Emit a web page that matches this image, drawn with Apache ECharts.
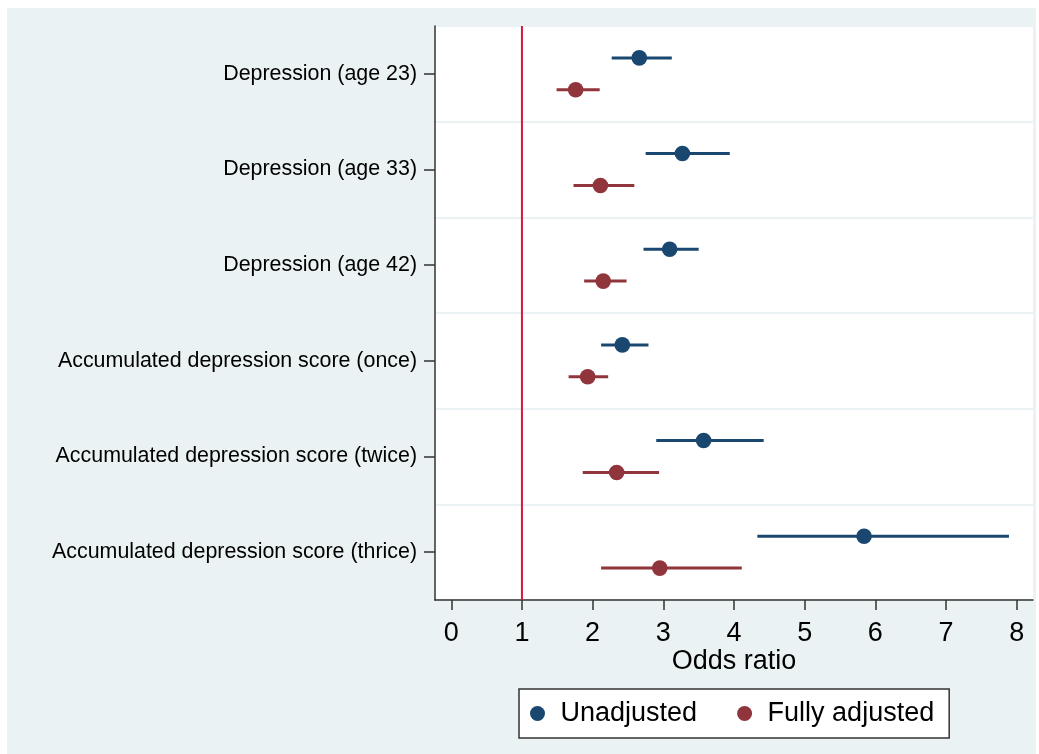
<!DOCTYPE html>
<html>
<head>
<meta charset="utf-8">
<script src="https://cdn.jsdelivr.net/npm/echarts@6/dist/echarts.min.js"></script>
<style>
html, body { margin: 0; padding: 0; background: #ffffff; width: 1039px; height: 754px; overflow: hidden; }
#chart { position: absolute; left: 7px; top: 8px; width: 1029px; height: 746px; background: #eaf2f3; }
</style>
</head>
<body>
<div id="chart"></div>
<script>
const categories = [
  'Depression (age 23)',
  'Depression (age 33)',
  'Depression (age 42)',
  'Accumulated depression score (once)',
  'Accumulated depression score (twice)',
  'Accumulated depression score (thrice)'
];
const unadjOR = [2.66, 3.27, 3.09, 2.42, 3.57, 5.84];
const unadjLo = [2.27, 2.75, 2.72, 2.12, 2.90, 4.33];
const unadjHi = [3.12, 3.94, 3.50, 2.79, 4.42, 7.89];
const adjOR = [1.76, 2.11, 2.15, 1.93, 2.34, 2.95];
const adjLo = [1.49, 1.73, 1.88, 1.66, 1.86, 2.12];
const adjHi = [2.10, 2.59, 2.48, 2.22, 2.94, 4.11];
const xTicks = [0, 1, 2, 3, 4, 5, 6, 7, 8];
const refValue = 1;

const FONT = '"Liberation Sans", Arial, sans-serif';
const C_UN = '#1a476f';
const C_AD = '#90353b';
const C_REF = '#d6173f';

function rows(or, lo, hi) {
  return or.map((v, i) => [v, lo[i], hi[i], i]);
}
function makeRender(sign, color) {
  return function (params, api) {
    const y = api.value(3);
    const p = api.coord([api.value(0), y]);
    const l = api.coord([api.value(1), y]);
    const h = api.coord([api.value(2), y]);
    const band = Math.abs(api.size([0, 1])[1]);
    const dy = sign * band / 6;
    return {
      type: 'group',
      children: [
        { type: 'line', shape: { x1: l[0], y1: l[1] + dy, x2: h[0], y2: h[1] + dy },
          style: { stroke: color, lineWidth: 3 } },
        { type: 'circle', shape: { cx: p[0], cy: p[1] + dy, r: 7.8 },
          style: { fill: color } }
      ]
    };
  };
}
function renderRef(params, api) {
  const cs = params.coordSys;
  const x = api.coord([api.value(0), 0])[0];
  return {
    type: 'line',
    shape: { x1: x, y1: cs.y, x2: x, y2: cs.y + cs.height },
    style: { stroke: C_REF, lineWidth: 2 }
  };
}

const chart = echarts.init(document.getElementById('chart'), null, { renderer: 'canvas' });
chart.setOption({
  animation: false,
  backgroundColor: '#eaf2f3',
  textStyle: { fontFamily: FONT },
  grid: { left: 428, top: 18, right: 3, bottom: 154, show: true, backgroundColor: '#ffffff', borderWidth: 0 },
  xAxis: {
    type: 'value', min: -0.23, max: 8.23,
    name: 'Odds ratio', nameLocation: 'middle', nameGap: 48, nameMoveOverlap: false,
    nameTextStyle: { fontSize: 27, color: '#000', fontFamily: FONT },
    axisLine: { show: true, onZero: false, lineStyle: { color: '#333', width: 1.5 } },
    axisTick: { show: true, length: 10, customValues: xTicks, lineStyle: { color: '#333', width: 1.5 } },
    axisLabel: { customValues: xTicks, fontSize: 27, color: '#000', margin: 20, fontFamily: FONT },
    splitLine: { show: false }
  },
  yAxis: {
    type: 'category', data: categories, inverse: true, boundaryGap: true,
    axisLine: { show: true, onZero: false, lineStyle: { color: '#333', width: 1.5 } },
    axisTick: { show: true, alignWithLabel: true, length: 11, interval: 0, lineStyle: { color: '#333', width: 1.5 } },
    axisLabel: { fontSize: 21.4, color: '#000', margin: 18, interval: 0, fontFamily: FONT },
    splitLine: { show: true, interval: 0, lineStyle: { color: '#eaf2f3', width: 2 } }
  },
  legend: {
    left: 512, top: 681,
    itemWidth: 36, itemHeight: 15, itemGap: 40,
    icon: 'circle',
    padding: [11, 15, 11, 11],
    borderColor: '#333', borderWidth: 1.5, backgroundColor: '#ffffff',
    textStyle: { fontSize: 27, color: '#000', fontFamily: FONT },
    data: ['Unadjusted', 'Fully adjusted']
  },
  series: [
    {
      name: 'ref', type: 'custom', silent: true,
      encode: { x: 0, y: 1 },
      data: [[refValue, 0]],
      renderItem: renderRef,
      z: 2
    },
    {
      name: 'Unadjusted', type: 'custom',
      itemStyle: { color: C_UN },
      encode: { x: [0, 1, 2], y: 3 },
      data: rows(unadjOR, unadjLo, unadjHi),
      renderItem: makeRender(-1, C_UN),
      z: 3
    },
    {
      name: 'Fully adjusted', type: 'custom',
      itemStyle: { color: C_AD },
      encode: { x: [0, 1, 2], y: 3 },
      data: rows(adjOR, adjLo, adjHi),
      renderItem: makeRender(1, C_AD),
      z: 3
    }
  ]
});
</script>
</body>
</html>
